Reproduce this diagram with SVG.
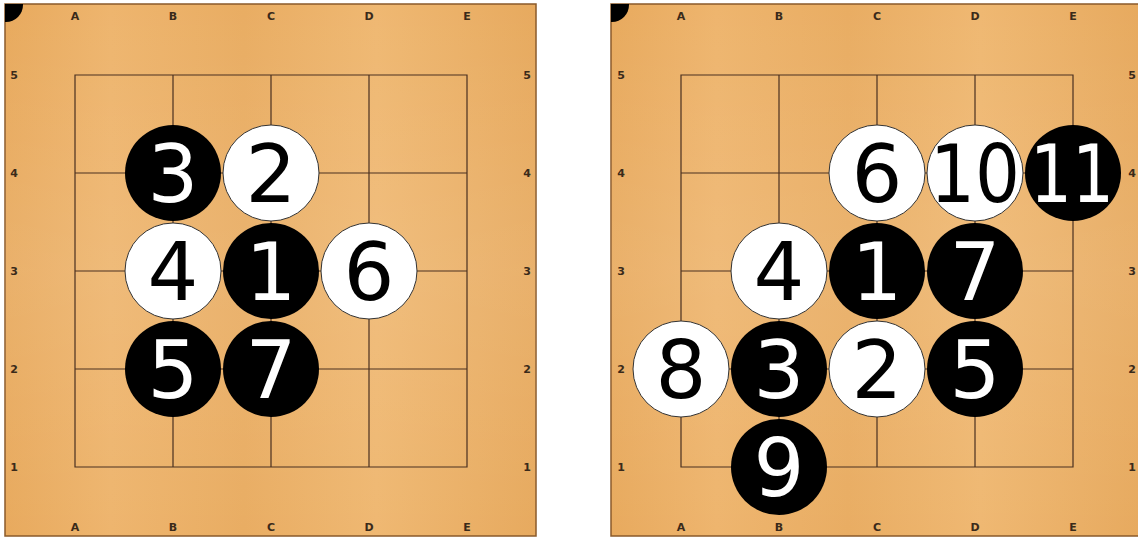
<svg xmlns="http://www.w3.org/2000/svg" width="1138" height="537" viewBox="0 0 1138 537">
<defs>
<linearGradient id="wood" x1="0" y1="0" x2="1" y2="0">
<stop offset="0" stop-color="#E8AA5E"/>
<stop offset="0.2" stop-color="#EEB56E"/>
<stop offset="0.45" stop-color="#E9AD63"/>
<stop offset="0.7" stop-color="#EFB872"/>
<stop offset="1" stop-color="#E7AA5F"/>
</linearGradient>
<linearGradient id="grain" x1="0" y1="0" x2="0" y2="1">
<stop offset="0" stop-color="#fff" stop-opacity="0"/>
<stop offset="0.5" stop-color="#fff" stop-opacity="0.08"/>
<stop offset="1" stop-color="#fff" stop-opacity="0"/>
</linearGradient>
<clipPath id="c1"><rect x="5" y="4" width="531" height="532"/></clipPath>
<clipPath id="c2"><rect x="611" y="4" width="527" height="532"/></clipPath>
</defs>
<style>
.board{fill:url(#wood);stroke:#8A5A2A;stroke-width:1.5}
.grid{fill:none;stroke:#4A3020;stroke-width:1.2}
.lbl{font-family:"DejaVu Sans",sans-serif;font-size:11px;font-weight:bold;fill:#3A2A1A;text-anchor:middle}
.b{fill:#000}
.w{fill:#fff;stroke:#333;stroke-width:1}
.nb{font-family:"DejaVu Sans",sans-serif;font-size:80px;fill:#fff;text-anchor:middle}
.nw{font-family:"DejaVu Sans",sans-serif;font-size:80px;fill:#000;text-anchor:middle}
</style>

<g id="board-left">
<rect class="board" x="5" y="4" width="531" height="532"/>
<rect x="5" y="4" width="531" height="532" fill="url(#grain)"/>
<circle cx="6" cy="5" r="17" fill="#000" clip-path="url(#c1)"/>
<path class="grid" d="M75 75H467V467H75Z M173 75V467 M271 75V467 M369 75V467 M75 173H467 M75 271H467 M75 369H467"/>
<text class="lbl" x="75" y="20">A</text><text class="lbl" x="173" y="20">B</text><text class="lbl" x="271" y="20">C</text><text class="lbl" x="369" y="20">D</text><text class="lbl" x="467" y="20">E</text>
<text class="lbl" x="75" y="531">A</text><text class="lbl" x="173" y="531">B</text><text class="lbl" x="271" y="531">C</text><text class="lbl" x="369" y="531">D</text><text class="lbl" x="467" y="531">E</text>
<text class="lbl" x="14" y="79">5</text><text class="lbl" x="14" y="177">4</text><text class="lbl" x="14" y="275">3</text><text class="lbl" x="14" y="373">2</text><text class="lbl" x="14" y="471">1</text>
<text class="lbl" x="527" y="79">5</text><text class="lbl" x="527" y="177">4</text><text class="lbl" x="527" y="275">3</text><text class="lbl" x="527" y="373">2</text><text class="lbl" x="527" y="471">1</text>
</g>
<g id="stones-left">
<g id="L3"><circle class="b" cx="173" cy="173" r="48"/><text class="nb" x="173" y="202">3</text></g>
<g id="L2"><circle class="w" cx="271" cy="173" r="48"/><text class="nw" x="271" y="202">2</text></g>
<g id="L4"><circle class="w" cx="173" cy="271" r="48"/><text class="nw" x="173" y="300">4</text></g>
<g id="L1"><circle class="b" cx="271" cy="271" r="48"/><text class="nb" x="271" y="300">1</text></g>
<g id="L6"><circle class="w" cx="369" cy="271" r="48"/><text class="nw" x="369" y="300">6</text></g>
<g id="L5"><circle class="b" cx="173" cy="369" r="48"/><text class="nb" x="173" y="398">5</text></g>
<g id="L7"><circle class="b" cx="271" cy="369" r="48"/><text class="nb" x="271" y="398">7</text></g>
</g>

<g id="board-right">
<rect class="board" x="611" y="4" width="528" height="532"/>
<rect x="611" y="4" width="528" height="532" fill="url(#grain)"/>
<circle cx="612" cy="5" r="17" fill="#000" clip-path="url(#c2)"/>
<path class="grid" d="M681 75H1073V467H681Z M779 75V467 M877 75V467 M975 75V467 M681 173H1073 M681 271H1073 M681 369H1073"/>
<text class="lbl" x="681" y="20">A</text><text class="lbl" x="779" y="20">B</text><text class="lbl" x="877" y="20">C</text><text class="lbl" x="975" y="20">D</text><text class="lbl" x="1073" y="20">E</text>
<text class="lbl" x="681" y="531">A</text><text class="lbl" x="779" y="531">B</text><text class="lbl" x="877" y="531">C</text><text class="lbl" x="975" y="531">D</text><text class="lbl" x="1073" y="531">E</text>
<text class="lbl" x="621" y="79">5</text><text class="lbl" x="621" y="177">4</text><text class="lbl" x="621" y="275">3</text><text class="lbl" x="621" y="373">2</text><text class="lbl" x="621" y="471">1</text>
<text class="lbl" x="1132" y="79">5</text><text class="lbl" x="1132" y="177">4</text><text class="lbl" x="1132" y="275">3</text><text class="lbl" x="1132" y="373">2</text><text class="lbl" x="1132" y="471">1</text>
</g>
<g id="stones-right">
<g id="R6"><circle class="w" cx="877" cy="173" r="48"/><text class="nw" x="877" y="202">6</text></g>
<g id="R10"><circle class="w" cx="975" cy="173" r="48"/><text class="nw" x="975" y="202" textLength="90" lengthAdjust="spacingAndGlyphs">10</text></g>
<g id="R11"><circle class="b" cx="1073" cy="173" r="48"/><text class="nb" x="1072" y="202" textLength="84" lengthAdjust="spacingAndGlyphs">11</text></g>
<g id="R4"><circle class="w" cx="779" cy="271" r="48"/><text class="nw" x="779" y="300">4</text></g>
<g id="R1"><circle class="b" cx="877" cy="271" r="48"/><text class="nb" x="877" y="300">1</text></g>
<g id="R7"><circle class="b" cx="975" cy="271" r="48"/><text class="nb" x="975" y="300">7</text></g>
<g id="R8"><circle class="w" cx="681" cy="369" r="48"/><text class="nw" x="681" y="398">8</text></g>
<g id="R3"><circle class="b" cx="779" cy="369" r="48"/><text class="nb" x="779" y="398">3</text></g>
<g id="R2"><circle class="w" cx="877" cy="369" r="48"/><text class="nw" x="877" y="398">2</text></g>
<g id="R5"><circle class="b" cx="975" cy="369" r="48"/><text class="nb" x="975" y="398">5</text></g>
<g id="R9"><circle class="b" cx="779" cy="467" r="48"/><text class="nb" x="779" y="496">9</text></g>
</g>
</svg>
